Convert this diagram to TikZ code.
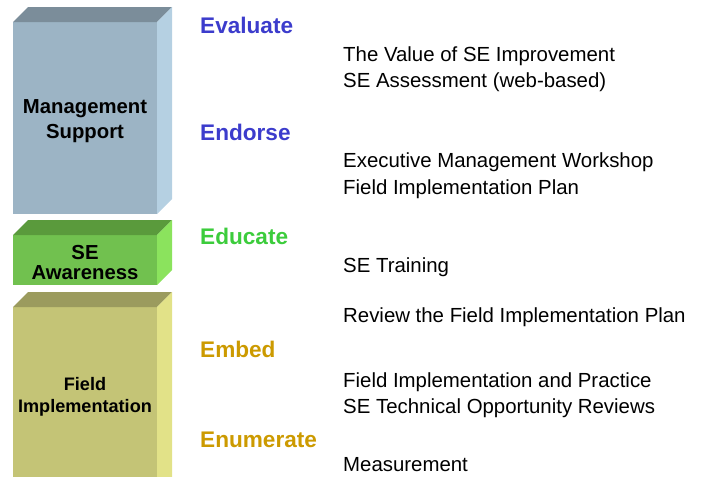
\documentclass[tikz,border=0pt]{standalone}
\usepackage{fontspec}
\setmainfont{Liberation Sans}
\definecolor{msfront}{HTML}{9CB4C5}
\definecolor{mstop}{HTML}{7B8D9A}
\definecolor{msside}{HTML}{B5D0E2}
\definecolor{awfront}{HTML}{71C14F}
\definecolor{awtop}{HTML}{5A9A3C}
\definecolor{awside}{HTML}{8BE35D}
\definecolor{fifront}{HTML}{C4C476}
\definecolor{fitop}{HTML}{9B9B5E}
\definecolor{fiside}{HTML}{E2E288}
\definecolor{headblue}{HTML}{3C3CCC}
\definecolor{headgreen}{HTML}{3CCC3C}
\definecolor{headgold}{HTML}{CC9A00}
\tikzset{
  boxlabel/.style={font=\bfseries\fontsize{20.3}{24.5}\selectfont, align=center, text=black, inner sep=0pt},
  heading/.style={anchor=base west, font=\bfseries\fontsize{22.6}{26}\selectfont, inner sep=0pt},
  item/.style={anchor=base west, font=\fontsize{20.4}{27}\selectfont, text=black, inner sep=0pt},
}
% a block seen from the front, with its top and right faces
\newcommand{\slab}[5]{% #1 top y, #2 bottom y, #3 front, #4 top, #5 side
  \fill[#3] (13,#1) rectangle (157,#2);
  \fill[#4] (13,#1) -- (28,#1-15) -- (172,#1-15) -- (157,#1) -- cycle;
  \fill[#5] (157,#1) -- (172,#1-15) -- (172,#2-15) -- (157,#2) -- cycle;
}
\begin{document}
\begin{tikzpicture}[x=1pt,y=-1pt]
\useasboundingbox (0,0) rectangle (705,477);
\begin{scope}
\clip (0,0) rectangle (705,477);
\slab{22}{214}{msfront}{mstop}{msside}
\slab{235}{285}{awfront}{awtop}{awside}
\slab{307}{495}{fifront}{fitop}{fiside}
\end{scope}

\node[boxlabel, anchor=base] (ms1) at (85,113) {Management};
\node[boxlabel, anchor=base] (ms2) at (85,138) {Support};
\node[boxlabel, anchor=base] (aw1) at (85,259) {SE};
\node[boxlabel, anchor=base] (aw2) at (85,279) {Awareness};
\node[boxlabel, anchor=base, font=\bfseries\fontsize{18.1}{22}\selectfont] (fi1) at (85,390) {Field};
\node[boxlabel, anchor=base, font=\bfseries\fontsize{18.1}{22}\selectfont] (fi2) at (85,412) {Implementation};

\node[heading, text=headblue] (h1) at (200,33) {Evaluate};
\node[item] (i1) at (343,61) {The Value of SE Improvement};
\node[item] (i2) at (343,87) {SE Assessment (web-based)};

\node[heading, text=headblue] (h2) at (200,140) {Endorse};
\node[item] (i3) at (343,167) {Executive Management Workshop};
\node[item] (i4) at (343,194) {Field Implementation Plan};

\node[heading, text=headgreen] (h3) at (200,244) {Educate};
\node[item] (i5) at (343,272) {SE Training};

\node[item] (i6) at (343,322) {Review the Field Implementation Plan};

\node[heading, text=headgold] (h4) at (200,357) {Embed};
\node[item] (i7) at (343,387) {Field Implementation and Practice};
\node[item] (i8) at (343,413) {SE Technical Opportunity Reviews};

\node[heading, text=headgold] (h5) at (200,447) {Enumerate};
\node[item] (i9) at (343,471) {Measurement};
\end{tikzpicture}
\end{document}
